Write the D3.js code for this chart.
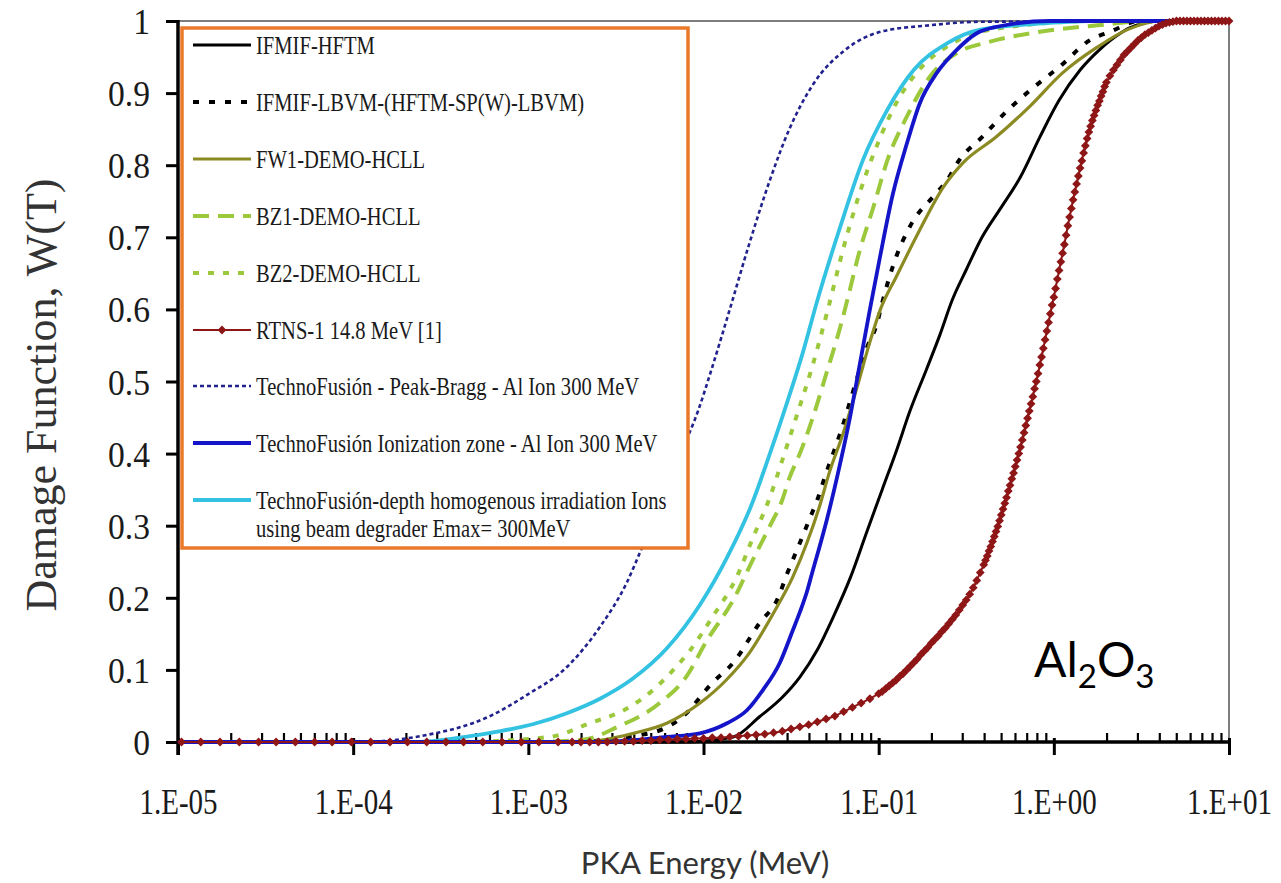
<!DOCTYPE html>
<html>
<head>
<meta charset="utf-8">
<script src="https://cdn.jsdelivr.net/npm/d3@7"></script>
<style>
  body { margin: 0; background: #ffffff; }
  svg { display: block; }
</style>
</head>
<body>
<svg id="chart" width="1281" height="883"></svg>
<script>
// ---- Tick labels ----
const xTickLabels = ["1.E-05", "1.E-04", "1.E-03", "1.E-02", "1.E-01", "1.E+00", "1.E+01"];
const yTickLabels = ["0", "0.1", "0.2", "0.3", "0.4", "0.5", "0.6", "0.7", "0.8", "0.9", "1"];

// ---- Series names (legend order) ----
const seriesNames = [
  "IFMIF-HFTM",
  "IFMIF-LBVM-(HFTM-SP(W)-LBVM)",
  "FW1-DEMO-HCLL",
  "BZ1-DEMO-HCLL",
  "BZ2-DEMO-HCLL",
  "RTNS-1  14.8 MeV [1]",
  "TechnoFusión - Peak-Bragg - Al Ion 300 MeV",
  "TechnoFusión Ionization zone - Al Ion 300 MeV",
  "TechnoFusión-depth homogenous irradiation Ions|using beam degrader Emax= 300MeV"
];

// ---- Series values: log10(PKA energy / MeV) and damage function W(T) ----
const hftmLogE = [-5, -2.12, -1.83, -1.68, -1.55, -1.45, -1.35, -1.26, -1.16, -1.07, -0.98, -0.90, -0.82, -0.73, -0.65, -0.58, -0.50, -0.41, -0.31, -0.19, -0.08, 0.03, 0.15, 0.26, 0.38, 0.43, 0.61, 1];
const hftmW    = [0, 0, 0.007, 0.035, 0.062, 0.09, 0.128, 0.173, 0.229, 0.29, 0.35, 0.403, 0.46, 0.515, 0.565, 0.613, 0.655, 0.70, 0.738, 0.784, 0.839, 0.89, 0.932, 0.96, 0.983, 0.99, 1, 1];

const lbvmLogE = [-5, -2.8, -2.31, -2.12, -1.95, -1.83, -1.68, -1.58, -1.52, -1.45, -1.39, -1.35, -1.30, -1.26, -1.21, -1.16, -1.11, -1.07, -1.01, -0.98, -0.92, -0.81, -0.69, -0.61, -0.54, -0.41, -0.26, -0.10, 0.03, 0.21, 0.32, 0.49, 1];
const lbvmW    = [0, 0, 0.012, 0.035, 0.082, 0.11, 0.165, 0.197, 0.235, 0.276, 0.312, 0.336, 0.373, 0.40, 0.435, 0.475, 0.515, 0.545, 0.58, 0.609, 0.659, 0.72, 0.756, 0.779, 0.807, 0.839, 0.877, 0.911, 0.936, 0.974, 0.985, 1, 1];

const fw1LogE = [-5, -2.69, -2.40, -2.21, -2.02, -1.87, -1.74, -1.60, -1.49, -1.41, -1.34, -1.28, -1.20, -1.12, -1.05, -0.99, -0.90, -0.77, -0.63, -0.52, -0.33, -0.14, 0.05, 0.25, 0.42, 0.61, 1];
const fw1W    = [0, 0, 0.012, 0.026, 0.054, 0.086, 0.123, 0.179, 0.229, 0.276, 0.325, 0.375, 0.43, 0.495, 0.555, 0.600, 0.645, 0.708, 0.77, 0.803, 0.839, 0.881, 0.928, 0.964, 0.988, 1, 1];

const bz1LogE = [-5, -3.0, -2.69, -2.49, -2.25, -2.10, -1.98, -1.83, -1.72, -1.62, -1.55, -1.51, -1.45, -1.38, -1.30, -1.22, -1.18, -1.11, -1.03, -0.95, -0.84, -0.71, -0.55, -0.37, -0.08, 0.25, 0.55, 1];
const bz1W    = [0, 0, 0.003, 0.021, 0.054, 0.09, 0.141, 0.197, 0.252, 0.30, 0.336, 0.366, 0.40, 0.447, 0.51, 0.575, 0.612, 0.68, 0.742, 0.807, 0.867, 0.922, 0.956, 0.971, 0.985, 0.994, 1, 1];

const bz2LogE = [-5, -3.4, -2.88, -2.65, -2.44, -2.27, -2.18, -2.08, -1.95, -1.81, -1.72, -1.62, -1.55, -1.47, -1.38, -1.29, -1.20, -1.09, -0.99, -0.90, -0.77, -0.58, -0.31, 0.26, 1];
const bz2W    = [0, 0, 0.007, 0.026, 0.046, 0.076, 0.098, 0.126, 0.173, 0.229, 0.282, 0.34, 0.391, 0.451, 0.52, 0.60, 0.686, 0.775, 0.839, 0.886, 0.932, 0.969, 0.99, 1, 1];

const rtnsLogE = [-4.98, -4.87, -4.76, -4.65, -4.54, -4.44, -4.33, -4.22, -4.12, -4.01, -3.90, -3.79, -3.69, -3.58, -3.47, -3.37, -3.26, -3.15, -3.04, -2.94, -2.83, -2.75,
  -2.70, -2.65, -2.60, -2.55, -2.50, -2.45, -2.40, -2.35, -2.30, -2.25, -2.20, -2.15, -2.10, -2.05, -2.00, -1.95, -1.90, -1.85, -1.80, -1.75, -1.70, -1.65, -1.60, -1.55,
  -1.50, -1.45, -1.40, -1.35, -1.30, -1.25, -1.20, -1.15, -1.10, -1.05,
  -1.00, -0.98, -0.96, -0.94, -0.92, -0.90, -0.88, -0.86, -0.84, -0.82, -0.80, -0.78, -0.76, -0.74, -0.72, -0.70, -0.68, -0.66, -0.64, -0.62,
  -0.60, -0.58, -0.56, -0.54, -0.52, -0.50, -0.48, -0.46, -0.44, -0.42, -0.40,
  -0.39, -0.38, -0.37, -0.36, -0.35, -0.34, -0.33, -0.32, -0.31, -0.30, -0.29, -0.28, -0.27, -0.26, -0.25, -0.24, -0.23, -0.22, -0.21, -0.20,
  -0.19, -0.18, -0.17, -0.16, -0.15, -0.14, -0.13, -0.12, -0.11, -0.10, -0.09, -0.08, -0.07, -0.06, -0.05, -0.04, -0.03, -0.02, -0.01, 0.00,
  0.01, 0.02, 0.03, 0.04, 0.05, 0.06, 0.07, 0.08, 0.09, 0.10, 0.11, 0.12, 0.13, 0.14, 0.15, 0.16, 0.17, 0.18, 0.19, 0.20,
  0.21, 0.22, 0.23, 0.24, 0.25, 0.26, 0.27, 0.28, 0.29, 0.30,
  0.32, 0.34, 0.36, 0.38, 0.40, 0.42, 0.44, 0.46, 0.48, 0.50, 0.52, 0.54, 0.56, 0.58, 0.60, 0.62, 0.64, 0.66, 0.68, 0.70,
  0.72, 0.74, 0.76, 0.78, 0.80, 0.82, 0.84, 0.86, 0.88, 0.90, 0.92, 0.94, 0.96, 0.98, 1.00];
const rtnsW = [0, 0, 0, 0, 0, 0, 0, 0, 0, 0, 0, 0, 0, 0, 0, 0, 0, 0, 0, 0, 0, 0,
  0, 0, 0, 0, 0.001, 0.001, 0.001, 0.002, 0.002, 0.003, 0.003, 0.004, 0.004, 0.005, 0.005, 0.006, 0.006, 0.007, 0.008, 0.009, 0.010, 0.011, 0.013, 0.015,
  0.018, 0.021, 0.024, 0.028, 0.032, 0.036, 0.042, 0.048, 0.054, 0.060,
  0.067, 0.070, 0.074, 0.078, 0.082, 0.086, 0.091, 0.095, 0.100, 0.105, 0.110, 0.115, 0.121, 0.126, 0.131, 0.137, 0.142, 0.147, 0.153, 0.158,
  0.164, 0.170, 0.176, 0.183, 0.190, 0.197, 0.205, 0.214, 0.224, 0.235, 0.246,
  0.252, 0.258, 0.265, 0.271, 0.278, 0.285, 0.292, 0.299, 0.307, 0.315, 0.323, 0.331, 0.339, 0.348, 0.356, 0.365, 0.373, 0.382, 0.391, 0.400,
  0.409, 0.419, 0.429, 0.439, 0.449, 0.459, 0.469, 0.479, 0.490, 0.500, 0.511, 0.523, 0.534, 0.546, 0.558, 0.570, 0.582, 0.594, 0.606, 0.617,
  0.629, 0.642, 0.654, 0.666, 0.678, 0.690, 0.703, 0.716, 0.728, 0.740, 0.752, 0.763, 0.774, 0.785, 0.796, 0.806, 0.817, 0.827, 0.837, 0.846,
  0.854, 0.862, 0.869, 0.876, 0.883, 0.889, 0.896, 0.902, 0.909, 0.915,
  0.924, 0.932, 0.939, 0.946, 0.953, 0.958, 0.963, 0.968, 0.973, 0.977, 0.981, 0.984, 0.987, 0.990, 0.993, 0.995, 0.997, 0.998, 0.999, 1,
  1, 1, 1, 1, 1, 1, 1, 1, 1, 1, 1, 1, 1, 1, 1];

const braggLogE = [-5, -3.97, -3.62, -3.21, -3.01, -2.78, -2.59, -2.44, -2.35, -2.22, -2.12, -2.03, -1.95, -1.85, -1.74, -1.62, -1.51, -1.38, -1.18, -0.99, -0.71, -0.42, 1];
const braggW    = [0, 0, 0.008, 0.037, 0.065, 0.104, 0.16, 0.22, 0.27, 0.34, 0.405, 0.46, 0.52, 0.60, 0.69, 0.78, 0.85, 0.91, 0.962, 0.985, 0.994, 0.999, 1];

const ionLogE = [-5, -2.591, -2.209, -2.021, -1.866, -1.752, -1.661, -1.564, -1.490, -1.450, -1.410, -1.376, -1.336, -1.294, -1.221, -1.164, -1.107, -1.050, -0.993, -0.919, -0.839, -0.765, -0.668, -0.554, -0.440, -0.325, -0.023, 1];
const ionW    = [0, 0, 0.007, 0.012, 0.026, 0.044, 0.072, 0.11, 0.155, 0.18, 0.208, 0.238, 0.272, 0.31, 0.385, 0.45, 0.525, 0.60, 0.672, 0.76, 0.83, 0.886, 0.928, 0.96, 0.983, 0.992, 1, 1];

const degraderLogE = [-5, -3.62, -3.39, -3.16, -2.97, -2.78, -2.591, -2.403, -2.209, -2.021, -1.861, -1.724, -1.621, -1.524, -1.433, -1.353, -1.22, -1.09, -0.95, -0.80, -0.61, -0.42, -0.04, 0.2, 1];
const degraderW    = [0, 0, 0.006, 0.015, 0.025, 0.04, 0.06, 0.088, 0.13, 0.19, 0.258, 0.33, 0.40, 0.47, 0.54, 0.61, 0.714, 0.807, 0.877, 0.932, 0.969, 0.988, 0.997, 1, 1];

// ---- Line styles, one per series (legend order) ----
const seriesStyles = [
  { color: "#000000", width: 3,   dash: null },
  { color: "#000000", width: 4,   dash: "6,10" },
  { color: "#8c8a22", width: 3.2, dash: null },
  { color: "#9cc83c", width: 4,   dash: "16,9" },
  { color: "#9cc83c", width: 4,   dash: "6,9" },
  { color: "#8e1616", width: 2,   dash: null, marker: true },
  { color: "#22228f", width: 2.6, dash: "4,3" },
  { color: "#1414c8", width: 3.8, dash: null },
  { color: "#33c2e2", width: 3.8, dash: null }
];

const seriesData = [
  [hftmLogE, hftmW], [lbvmLogE, lbvmW], [fw1LogE, fw1W], [bz1LogE, bz1W], [bz2LogE, bz2W],
  [rtnsLogE, rtnsW], [braggLogE, braggW], [ionLogE, ionW], [degraderLogE, degraderW]
];

// ---- Layout ----
const svg = d3.select("#chart");
const plot = { left: 178, right: 1229, top: 21, bottom: 742 };

const x = d3.scaleLog().domain([1e-5, 10]).range([plot.left, plot.right]);
const y = d3.scaleLinear().domain([0, 1]).range([plot.bottom, plot.top]);

// plot-area frame
svg.append("rect")
  .attr("x", plot.left).attr("y", plot.top)
  .attr("width", plot.right - plot.left).attr("height", plot.bottom - plot.top)
  .attr("fill", "none").attr("stroke", "#3a3a3a").attr("stroke-width", 1.3);

// ---- Axes (drawn first so curves lying on W = 0 sit on top) ----
const xMajor = xTickLabels.map((_, i) => Math.pow(10, i - 5));
const xMinor = [];
for (let d = -5; d < 1; d++) for (let k = 2; k <= 9; k++) xMinor.push(k * Math.pow(10, d));

const gxMinor = svg.append("g").attr("transform", `translate(0,${plot.bottom})`)
  .call(d3.axisTop(x).tickValues(xMinor).tickSize(9).tickFormat(""));
gxMinor.select(".domain").remove();
gxMinor.selectAll("line").attr("stroke", "#000").attr("stroke-width", 2.2);

const gx = svg.append("g").attr("transform", `translate(0,${plot.bottom})`)
  .call(d3.axisBottom(x).tickValues(xMajor).tickSize(13).tickFormat((d, i) => xTickLabels[i]));
gx.select(".domain").remove();
gx.selectAll("line").attr("y1", -4).attr("stroke", "#000").attr("stroke-width", 3);
gx.selectAll("text")
  .attr("y", 0).attr("dy", 0)
  .attr("transform", "translate(0,72) scale(1,1.22)")
  .attr("font-family", "Liberation Serif")
  .attr("font-size", 29)
  .attr("fill", "#1a1a1a");

const gy = svg.append("g").attr("transform", `translate(${plot.left},0)`)
  .call(d3.axisLeft(y).tickValues(d3.range(0, 11).map(i => i / 10)).tickSize(12)
    .tickFormat((d, i) => yTickLabels[i]));
gy.select(".domain").remove();
gy.selectAll("line").attr("stroke", "#000").attr("stroke-width", 3);
gy.selectAll("text")
  .attr("x", 0).attr("dy", "0.35em")
  .attr("transform", "translate(-28,0) scale(1.05,1.12)")
  .attr("font-family", "Liberation Serif")
  .attr("font-size", 32)
  .attr("fill", "#1a1a1a");

svg.append("line")
  .attr("x1", plot.left - 1).attr("x2", plot.right + 1)
  .attr("y1", plot.bottom).attr("y2", plot.bottom)
  .attr("stroke", "#000").attr("stroke-width", 3.5);
svg.append("line")
  .attr("x1", plot.left).attr("x2", plot.left)
  .attr("y1", plot.top - 1).attr("y2", plot.bottom + 13)
  .attr("stroke", "#000").attr("stroke-width", 3.5);

// ---- Curves ----
const line = d3.line()
  .x(d => x(d[0]))
  .y(d => y(d[1]))
  .curve(d3.curveMonotoneX);

const diamond = "M0,-4.4L4.4,0L0,4.4L-4.4,0Z";
const drawOrder = [0, 1, 2, 3, 4, 8, 6, 7, 5];
const series = seriesData.map(([le, w]) => le.map((v, i) => [Math.pow(10, v), w[i]]));

const curves = svg.append("g");
drawOrder.forEach(i => {
  const st = seriesStyles[i];
  curves.append("path")
    .datum(series[i])
    .attr("d", line)
    .attr("fill", "none")
    .attr("stroke", st.color)
    .attr("stroke-width", st.width)
    .attr("stroke-dasharray", st.dash)
    .attr("stroke-linejoin", "round");
  if (st.marker) {
    curves.append("g").selectAll("path")
      .data(series[i])
      .join("path")
      .attr("transform", d => `translate(${x(d[0])},${y(d[1])})`)
      .attr("d", diamond)
      .attr("fill", st.color);
  }
});

// ---- Axis titles ----
svg.append("text")
  .attr("x", 705).attr("y", 874)
  .attr("text-anchor", "middle")
  .attr("font-family", "Lato")
  .attr("font-size", 31)
  .attr("fill", "#333")
  .text("PKA Energy (MeV)");

svg.append("text")
  .attr("transform", "translate(56,395) rotate(-90)")
  .attr("text-anchor", "middle")
  .attr("font-family", "Liberation Serif")
  .attr("font-size", 44)
  .attr("fill", "#333")
  .text("Damage Function, W(T)");

// ---- Material label ----
const mat = svg.append("text")
  .attr("x", 1034).attr("y", 677)
  .attr("font-family", "Lato")
  .attr("font-size", 48)
  .attr("fill", "#000");
mat.append("tspan").text("Al");
mat.append("tspan").attr("dy", 11).attr("font-size", 33).text("2");
mat.append("tspan").attr("dy", -11).text("O");
mat.append("tspan").attr("dy", 11).attr("font-size", 33).text("3");

// ---- Legend ----
const legend = svg.append("g");
legend.append("rect")
  .attr("x", 182).attr("y", 28)
  .attr("width", 506).attr("height", 520)
  .attr("fill", "#fff")
  .attr("stroke", "#ea7a2a").attr("stroke-width", 3.5);

const rowY = [45, 102, 159, 216, 273, 330, 386, 443, 500];
seriesNames.forEach((name, i) => {
  const st = seriesStyles[i];
  const yy = rowY[i];
  legend.append("line")
    .attr("x1", 193).attr("x2", 251)
    .attr("y1", yy).attr("y2", yy)
    .attr("stroke", st.color)
    .attr("stroke-width", st.width)
    .attr("stroke-dasharray", st.dash);
  if (st.marker) {
    legend.append("path")
      .attr("transform", `translate(222,${yy})`)
      .attr("d", diamond)
      .attr("fill", st.color);
  }
  name.split("|").forEach((part, j) => {
    legend.append("text")
      .attr("transform", `translate(256,${yy + j * 28}) scale(0.98,1.2)`)
      .attr("dy", "0.35em")
      .attr("font-family", "Liberation Serif")
      .attr("font-size", 21)
      .attr("fill", "#1a1a1a")
      .text(part);
  });
});
</script>
</body>
</html>
